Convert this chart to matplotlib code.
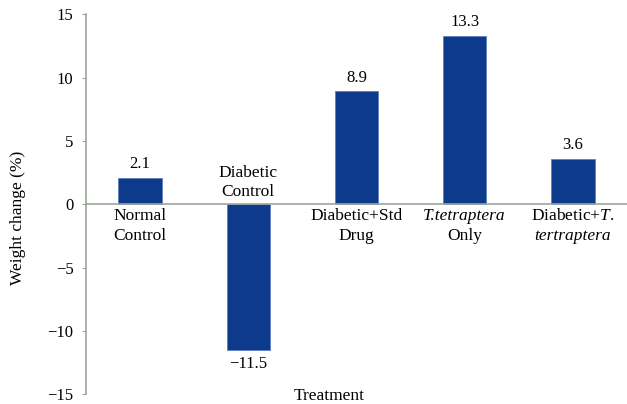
import matplotlib
matplotlib.use("Agg")
import matplotlib.pyplot as plt

# data
groups = ["Normal\nControl", "Diabetic\nControl", "Diabetic+Std\nDrug",
          "T.tetraptera\nOnly", "Diabetic+$\\it{T.}$\ntertraptera"]
italic_lines = {"T.tetraptera", "tertraptera"}
weight_change = [2.1, -11.5, 8.9, 13.3, 3.6]
yticks = [-15, -10, -5, 0, 5, 10, 15]

plt.rcParams["font.family"] = ["Liberation Serif", "DejaVu Serif"]
plt.rcParams["mathtext.fontset"] = "custom"
plt.rcParams["mathtext.it"] = "Liberation Serif:italic"
plt.rcParams["mathtext.rm"] = "Liberation Serif"

bar_color = "#0d3a8a"
axis_color = "#9aa89a"

fig = plt.figure(figsize=(6.27, 4.04), dpi=100)
ax = fig.add_axes([0.137, 0.024, 0.863, 0.941])

x = range(len(weight_change))
ax.bar(x, weight_change, width=0.4, color=bar_color, edgecolor="#5f7fbf",
       linewidth=0.6, zorder=2)

ax.set_xlim(-0.5, 4.5)
ax.set_ylim(-15, 15)
ax.set_yticks(yticks)
ax.set_yticklabels([str(t).replace("-", "\u2212") for t in yticks], fontsize=12)
ax.tick_params(axis="y", length=3, width=0.8, color=axis_color, pad=6)
ax.set_xticks([])

for side in ["top", "right"]:
    ax.spines[side].set_visible(False)
ax.spines["left"].set_color(axis_color)
ax.spines["left"].set_linewidth(1.2)
ax.spines["bottom"].set_position(("data", 0))
ax.spines["bottom"].set_color(axis_color)
ax.spines["bottom"].set_linewidth(1.2)

# value labels and category labels
for i, v in enumerate(weight_change):
    label = f"{v:.1f}".replace("-", "\u2212")
    lines = groups[i].split("\n")
    if v >= 0:
        ax.annotate(label, (i, v), xytext=(0, 4), textcoords="offset points",
                    ha="center", va="bottom", fontsize=12)
        offsets = [-3, -17]
        va = "top"
    else:
        ax.annotate(label, (i, v), xytext=(0, -4), textcoords="offset points",
                    ha="center", va="top", fontsize=12)
        offsets = [17, 3]
        va = "bottom"
    for line, dy in zip(lines, offsets):
        style = "italic" if line in italic_lines else "normal"
        ax.annotate(line, (i, 0), xytext=(0, dy), textcoords="offset points",
                    ha="center", va=va, fontsize=12.5, fontstyle=style)

fig.text(0.029, 0.46, "Weight change (%)", rotation=90, ha="center",
         va="center", fontsize=12.5)
fig.text(0.525, 0.0, "Treatment", ha="center", va="bottom", fontsize=12.5)

fig.savefig("out.png", dpi=100)
